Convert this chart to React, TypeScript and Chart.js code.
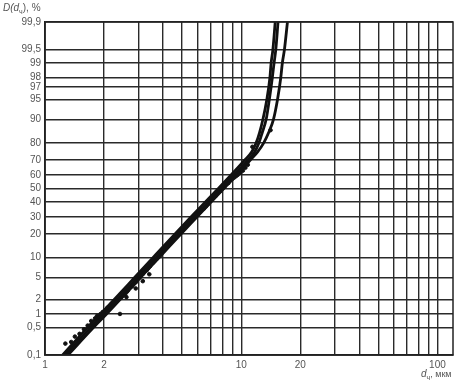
import React, { useEffect, useRef } from "react";
import { Chart, registerables, Scale } from "chart.js";

// ---- data ----
const Y_TICKS = [0.1, 0.5, 1, 2, 5, 10, 20, 30, 40, 50, 60, 70, 80, 90, 95, 97, 98, 99, 99.5, 99.9];
const X_GRID = [1, 2, 3, 4, 5, 6, 7, 8, 9, 10, 20, 30, 40, 50, 60, 70, 80, 90, 100];
const X_LABELS = [1, 2, 10, 20, 100];

const CURVE_A_X = [1.23, 1.65, 1.92, 2.26, 2.87, 3.55, 4.6, 5.56, 6.55, 7.65, 8.9, 10.4, 11.3, 11.9, 12.4, 12.9, 13.5, 14.0, 14.2, 14.5, 14.9];
const CURVE_A_Y = [0.1, 0.5, 1, 2, 5, 10, 20, 30, 40, 50, 60, 70, 75, 80, 85, 90, 95, 98, 99, 99.5, 99.9];
const CURVE_B_X = [1.27, 1.71, 1.99, 2.34, 2.97, 3.68, 4.77, 5.76, 6.8, 7.9, 9.2, 10.8, 11.7, 12.3, 12.8, 13.4, 13.9, 14.4, 14.7, 15.0, 15.4];
const CURVE_B_Y = [0.1, 0.5, 1, 2, 5, 10, 20, 30, 40, 50, 60, 70, 75, 80, 85, 90, 95, 98, 99, 99.5, 99.9];
const CURVE_C_X = [1.31, 1.77, 2.06, 2.42, 3.07, 3.81, 4.93, 5.96, 7.0, 8.15, 9.5, 11.1, 12.1, 13.0, 13.8, 14.6, 15.3, 15.9, 16.2, 16.6, 17.2];
const CURVE_C_Y = [0.1, 0.5, 1, 2, 5, 10, 20, 30, 40, 50, 60, 70, 75, 80, 85, 90, 95, 98, 99, 99.5, 99.9];

const PTS_X = [1.27, 1.36, 1.42, 1.5, 1.58, 1.65, 1.72, 1.8, 1.84, 1.92, 1.97, 2.03, 2.08, 2.14, 2.18, 2.24, 2.3, 2.41, 2.45, 2.5, 2.56, 2.62, 2.66, 2.72, 2.78, 2.83, 2.9, 2.96, 3.03, 3.1, 3.16, 3.22, 3.3, 3.36, 3.43, 3.5, 3.56, 3.62, 3.7, 3.8, 3.9, 4.0, 4.1, 4.2, 4.3, 4.4, 4.5, 4.62, 4.75, 4.9, 5.0, 5.15, 5.3, 5.4, 5.55, 5.7, 5.85, 6.0, 6.15, 6.3, 6.45, 6.6, 6.75, 6.9, 7.05, 7.2, 7.4, 7.6, 7.8, 8.0, 8.2, 8.4, 8.6, 8.8, 9.0, 9.2, 9.4, 9.6, 9.9, 10.2, 10.5, 10.8, 11.4, 14.1, 2.6, 2.9, 3.15, 3.4];
const PTS_Y = [0.2, 0.22, 0.3, 0.35, 0.45, 0.55, 0.7, 0.8, 0.9, 1.0, 1.1, 1.2, 1.35, 1.45, 1.6, 1.75, 1.9, 1.0, 2.2, 2.4, 2.5, 2.8, 3.0, 3.3, 3.5, 3.8, 4.1, 4.6, 4.9, 5.4, 5.7, 6.2, 6.5, 7.0, 7.5, 8.2, 8.5, 9.0, 9.6, 10.5, 11.3, 12.5, 13.2, 14.5, 15.3, 16.5, 17.2, 18.5, 19.5, 21, 22, 24, 25.5, 27, 27.5, 29, 30.5, 32, 33, 35, 35.5, 37, 38.5, 41, 41.5, 44, 44.5, 47, 48, 50, 51, 53, 54, 56, 57, 58, 59, 60, 61.5, 63, 65, 67, 78, 86, 2.2, 3.2, 4.3, 5.6];

// ---- probit helpers ----
function erfinv(x: number): number {
  const a = 0.147;
  const ln = Math.log(1 - x * x);
  const t1 = 2 / (Math.PI * a) + ln / 2;
  return Math.sign(x) * Math.sqrt(Math.sqrt(t1 * t1 - ln / a) - t1);
}
function probit(p: number): number {
  return Math.SQRT2 * erfinv(2 * p - 1);
}
function erf(x: number): number {
  const s = Math.sign(x);
  x = Math.abs(x);
  const t = 1 / (1 + 0.3275911 * x);
  const y = 1 - (((((1.061405429 * t - 1.453152027) * t) + 1.421413741) * t - 0.284496736) * t + 0.254829592) * t * Math.exp(-x * x);
  return s * y;
}

class ProbitScale extends Scale {
  static id = "probit";
  static defaults = {};
  determineDataLimits() {
    const o: any = this.options;
    this.min = o.min ?? 0.1;
    this.max = o.max ?? 99.9;
  }
  buildTicks() {
    const o: any = this.options;
    return (o.tickValues || Y_TICKS).map((v: number) => ({ value: v }));
  }
  getLabelForValue(v: number) {
    return String(v);
  }
  getPixelForValue(v: number) {
    const zmin = probit(this.min / 100);
    const zmax = probit(this.max / 100);
    const z = probit(v / 100);
    return this.getPixelForDecimal((z - zmin) / (zmax - zmin));
  }
  getValueForPixel(p: number) {
    const zmin = probit(this.min / 100);
    const zmax = probit(this.max / 100);
    const z = zmin + this.getDecimalForPixel(p) * (zmax - zmin);
    return 50 * (1 + erf(z / Math.SQRT2));
  }
}

Chart.register(...registerables, ProbitScale as any);

const fmt = (v: number) => String(v).replace(".", ",");

const frameAndTitles = {
  id: "frameAndTitles",
  afterDraw(chart: any) {
    const { ctx, chartArea } = chart;
    ctx.save();
    ctx.strokeStyle = "#222";
    ctx.lineWidth = 1.5;
    ctx.strokeRect(chartArea.left, chartArea.top, chartArea.right - chartArea.left, chartArea.bottom - chartArea.top);
    ctx.fillStyle = "#555";
    ctx.textBaseline = "alphabetic";
    ctx.textAlign = "left";
    let x = 3;
    const yb = 11;
    ctx.font = "italic 10px 'Liberation Sans', Arial, sans-serif";
    ctx.fillText("D(d", x, yb);
    x += ctx.measureText("D(d").width;
    ctx.font = "7px 'Liberation Sans', Arial, sans-serif";
    ctx.fillText("ч", x, yb + 3);
    x += ctx.measureText("ч").width;
    ctx.font = "10px 'Liberation Sans', Arial, sans-serif";
    ctx.fillText("), %", x, yb);
    x = 421;
    const xb = 377;
    ctx.font = "italic 10px 'Liberation Sans', Arial, sans-serif";
    ctx.fillText("d", x, xb);
    x += ctx.measureText("d").width;
    ctx.font = "7px 'Liberation Sans', Arial, sans-serif";
    ctx.fillText("ч", x, xb + 3);
    x += ctx.measureText("ч").width;
    ctx.font = "9px 'Liberation Sans', Arial, sans-serif";
    ctx.fillText(", мкм", x, xb);
    ctx.restore();
  },
};

function toPts(xs: number[], ys: number[]) {
  return xs.map((x, i) => ({ x, y: ys[i] }));
}

export default function App() {
  const ref = useRef<HTMLCanvasElement | null>(null);
  useEffect(() => {
    if (!ref.current) return;
    const lineDs = (xs: number[], ys: number[]) => ({
      type: "line" as const,
      data: toPts(xs, ys),
      borderColor: "#111",
      borderWidth: 2.8,
      pointRadius: 0,
      fill: false,
      tension: 0.4,
      cubicInterpolationMode: "monotone" as const,
    });
    const chart = new Chart(ref.current, {
      type: "line",
      data: {
        datasets: [
          lineDs(CURVE_A_X, CURVE_A_Y) as any,
          lineDs(CURVE_B_X, CURVE_B_Y) as any,
          lineDs(CURVE_C_X, CURVE_C_Y) as any,
          {
            type: "scatter",
            data: toPts(PTS_X, PTS_Y),
            backgroundColor: "#111",
            borderColor: "#111",
            pointRadius: 1.8,
            showLine: false,
          } as any,
        ],
      },
      options: {
        animation: false,
        responsive: true,
        maintainAspectRatio: false,
        layout: { padding: { top: 22, right: 5, left: 0, bottom: 0 } },
        plugins: { legend: { display: false }, tooltip: { enabled: false } },
        scales: {
          x: {
            type: "logarithmic",
            min: 1,
            max: 120,
            afterBuildTicks: (s: any) => {
              s.ticks = X_GRID.map((v) => ({ value: v }));
            },
            afterFit: (s: any) => {
              s.height = 31;
            },
            grid: { color: "#2a2a2a", lineWidth: 1.4, drawTicks: false },
            border: { color: "#222", width: 1.5 },
            ticks: {
              autoSkip: false,
              maxRotation: 0,
              padding: 4,
              color: "#555",
              font: { size: 10, family: "'Liberation Sans', Arial, sans-serif" },
              callback: (v: any) => (X_LABELS.includes(Number(v)) ? fmt(Number(v)) : ""),
            },
          },
          y: {
            type: "probit" as any,
            min: 0.1,
            max: 99.9,
            tickValues: Y_TICKS,
            afterFit: (s: any) => {
              s.width = 45;
            },
            grid: { color: "#2a2a2a", lineWidth: 1.4, drawTicks: false },
            border: { color: "#222", width: 1.5 },
            ticks: {
              autoSkip: false,
              padding: 4,
              color: "#555",
              font: { size: 10, family: "'Liberation Sans', Arial, sans-serif" },
              callback: (v: any) => fmt(Number(v)),
            },
          } as any,
        },
      },
      plugins: [frameAndTitles],
    });
    return () => chart.destroy();
  }, []);
  return (
    <div style={{ position: "absolute", left: 0, top: 0, width: 458, height: 386, background: "#fff" }}>
      <canvas ref={ref} />
    </div>
  );
}
